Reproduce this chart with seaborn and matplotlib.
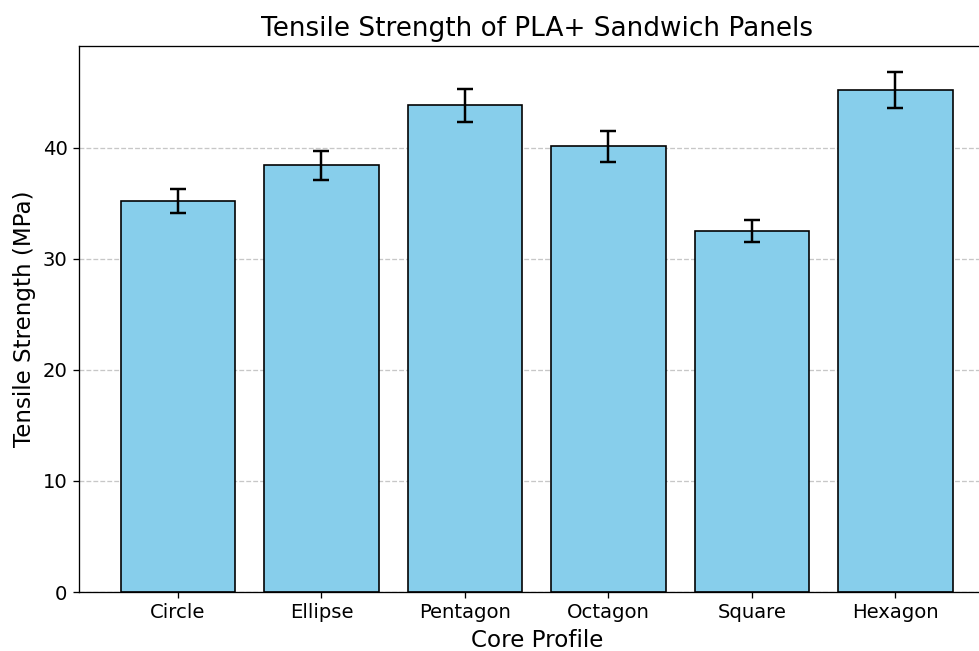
import matplotlib
matplotlib.use("Agg")
import matplotlib.pyplot as plt
import seaborn as sns
import pandas as pd

profiles = ["Circle", "Ellipse", "Pentagon", "Octagon", "Square", "Hexagon"]
strength = [35.2, 38.4, 43.8, 40.1, 32.5, 45.2]
strength_sd = [1.1, 1.3, 1.5, 1.4, 1.0, 1.6]

df = pd.DataFrame({"Core Profile": profiles, "Tensile Strength": strength})

DPI = 118
fig = plt.figure(figsize=(979 / DPI, 651 / DPI), dpi=DPI)
ax = fig.add_axes([0.0807, 0.0906, 0.935, 0.8387])

sns.barplot(data=df, x="Core Profile", y="Tensile Strength", color="skyblue",
            edgecolor="black", linewidth=1.0, saturation=1, width=0.8, ax=ax,
            errorbar=None)
ax.errorbar(range(len(profiles)), strength, yerr=strength_sd, fmt="none",
            ecolor="black", elinewidth=1.5, capsize=5, capthick=1.5)

ax.set_xlim(-0.69, 5.69)
ax.set_ylim(0, (strength[-1] + strength_sd[-1]) * 1.05)
ax.set_title("Tensile Strength of PLA+ Sandwich Panels", fontsize=16)
ax.set_xlabel("Core Profile", fontsize=14)
ax.set_ylabel("Tensile Strength (MPa)", fontsize=14)
ax.tick_params(axis="both", labelsize=12)
ax.yaxis.grid(True, linestyle="--", alpha=0.7)
ax.set_axisbelow(True)

fig.savefig("out.png", dpi=DPI)
